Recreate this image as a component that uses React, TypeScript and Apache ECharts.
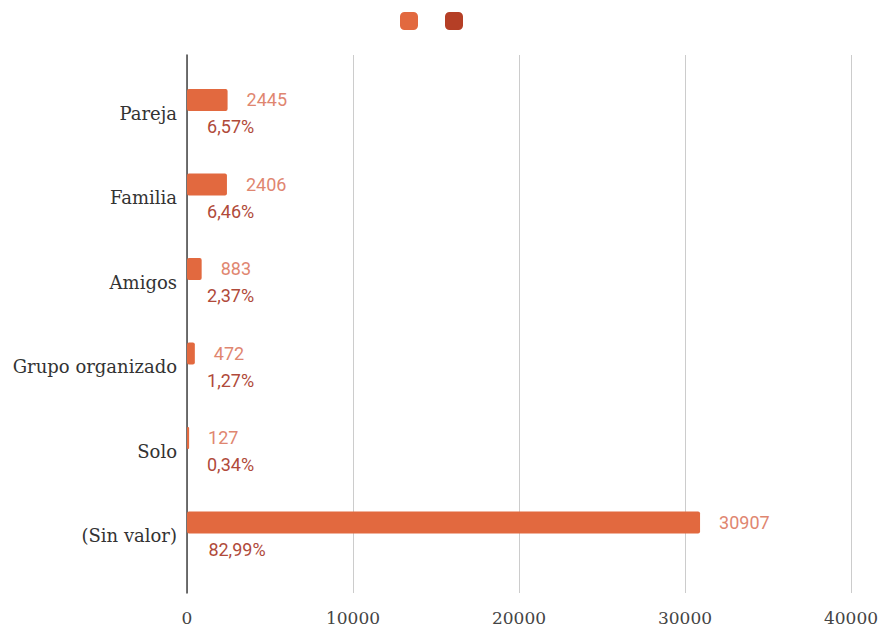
import React, { useEffect, useRef } from "react";
import * as echarts from "echarts";

const categories = ["Pareja", "Familia", "Amigos", "Grupo organizado", "Solo", "(Sin valor)"];
const counts = [2445, 2406, 883, 472, 127, 30907];
const percents = [6.57, 6.46, 2.37, 1.27, 0.34, 82.99];
const xTicks = [0, 10000, 20000, 30000, 40000];
const seriesNames = ["Cantidad", "Porcentaje"];
const seriesColors = ["#e2693f", "#b53f26"];

export default function App() {
  const ref = useRef<HTMLDivElement>(null);
  useEffect(() => {
    if (!ref.current) return;
    const chart = echarts.init(ref.current, null, { renderer: "svg" });
    const xMin = xTicks[0];
    const xMax = xTicks[xTicks.length - 1];
    const interval = xTicks[1] - xTicks[0];
    chart.setOption({
      animation: false,
      backgroundColor: "#ffffff",
      legend: {
        left: 400,
        top: 12,
        padding: 0,
        itemWidth: 18,
        itemHeight: 18,
        itemGap: 27,
        icon: "roundRect",
        formatter: () => "",
        data: seriesNames.map((n, i) => ({
          name: n,
          itemStyle: { color: seriesColors[i], opacity: 1 },
        })),
      },
      grid: [
        { left: 187, right: 35, top: 55, bottom: 37, containLabel: false },
        { left: 187, right: 35, top: 71, bottom: 52, containLabel: false },
      ],
      xAxis: [
        {
          type: "value",
          gridIndex: 0,
          min: xMin,
          max: xMax,
          interval,
          axisLine: { show: false },
          axisTick: { show: false },
          splitLine: { show: true, lineStyle: { color: "#cccccc", width: 1 } },
          axisLabel: {
            margin: 16,
            fontFamily: "DejaVu Serif",
            fontSize: 17,
            color: "#444444",
            formatter: (v: number) => String(v),
          },
        },
        {
          type: "value",
          gridIndex: 1,
          min: xMin,
          max: xMax,
          interval,
          show: false,
        },
      ],
      yAxis: [
        {
          type: "value",
          gridIndex: 0,
          axisLine: { show: true, onZero: false, lineStyle: { color: "#444444", width: 1.5 } },
          axisTick: { show: false },
          axisLabel: { show: false },
          splitLine: { show: false },
        },
        {
          type: "category",
          gridIndex: 1,
          inverse: true,
          data: categories,
          axisLine: { show: false },
          axisTick: { show: false },
          axisLabel: {
            margin: 10,
            fontFamily: "DejaVu Serif",
            fontSize: 18,
            color: "#333333",
          },
        },
      ],
      series: [
        {
          name: seriesNames[0],
          type: "bar",
          xAxisIndex: 1,
          yAxisIndex: 1,
          data: counts,
          barWidth: 22,
          barGap: "21%",
          itemStyle: { color: seriesColors[0], borderRadius: 2 },
          label: {
            show: true,
            position: "right",
            distance: 19,
            fontFamily: "Roboto",
            fontSize: 18,
            color: "#df8670",
          },
        },
        {
          name: seriesNames[1],
          type: "bar",
          xAxisIndex: 1,
          yAxisIndex: 1,
          data: percents,
          barWidth: 22,
          barGap: "21%",
          itemStyle: { color: "rgba(0,0,0,0)" },
          label: {
            show: true,
            position: "right",
            distance: 20,
            fontFamily: "Roboto",
            fontSize: 18,
            color: "#b04a3a",
            formatter: (p: any) => p.value.toFixed(2).replace(".", ",") + "%",
          },
        },
      ],
    });
    return () => chart.dispose();
  }, []);
  return (
    <div
      ref={ref}
      style={{ position: "absolute", left: 0, top: 0, width: 886, height: 630 }}
    />
  );
}
